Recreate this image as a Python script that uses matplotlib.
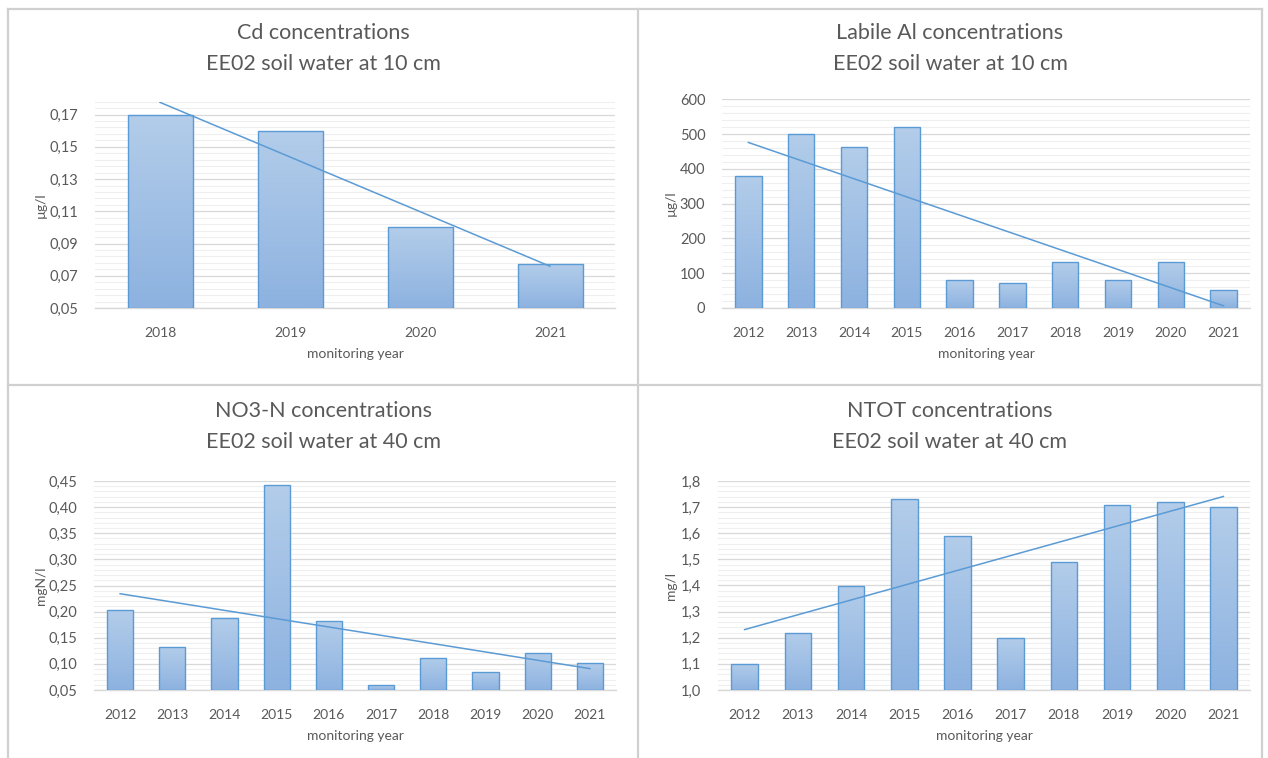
import matplotlib
matplotlib.use('Agg')
import matplotlib.pyplot as plt
import numpy as np
from matplotlib.patches import Rectangle
from matplotlib.lines import Line2D
from matplotlib.colors import LinearSegmentedColormap
from matplotlib.ticker import FixedLocator

plt.rcParams['font.family'] = ['Lato', 'DejaVu Sans']

# ---------------- data ----------------
cd_years = ['2018', '2019', '2020', '2021']
cd_values = [0.170, 0.160, 0.100, 0.077]

years = ['2012', '2013', '2014', '2015', '2016', '2017', '2018', '2019', '2020', '2021']
al_values = [380, 500, 462, 520, 80, 73, 132, 80, 132, 52]
no3_values = [0.203, 0.133, 0.187, 0.443, 0.182, 0.059, 0.112, 0.085, 0.121, 0.101]
ntot_values = [1.10, 1.22, 1.40, 1.73, 1.59, 1.20, 1.49, 1.71, 1.72, 1.70]

titles = ['Cd concentrations\nEE02 soil water at 10 cm',
          'Labile Al concentrations\nEE02 soil water at 10 cm',
          'NO3-N concentrations\nEE02 soil water at 40 cm',
          'NTOT concentrations\nEE02 soil water at 40 cm']
ylabels = ['µg/l', 'µg/l', 'mgN/l', 'mg/l']
xlabel = 'monitoring year'

# ---------------- style ----------------
W, H = 1268, 758
fig = plt.figure(figsize=(W / 100, H / 100), dpi=100)

TEXT = '#595959'
EDGE = '#5b9bd5'
MAJ = '#d9d9d9'
MIN = '#efefef'
cmap = LinearSegmentedColormap.from_list('bar', ['#b3cdea', '#8db2e0'])


def fig_rect(l, t, r, b):
    return [l / W, 1 - b / H, (r - l) / W, (b - t) / H]


def fmt(v, dec):
    return f'{v:.{dec}f}'.replace('.', ',')


panels = [
    dict(cats=cd_years, vals=cd_values, ymin=0.05, ymax=0.178, major=0.02, minor=0.004,
         dec=2, px=(95, 101.7, 615, 308), pan=(8, 638), ttop=0),
    dict(cats=years, vals=al_values, ymin=0, ymax=600, major=100, minor=20,
         dec=0, px=(722, 99.3, 1250, 308), pan=(638, 1262), ttop=0),
    dict(cats=years, vals=no3_values, ymin=0.05, ymax=0.45, major=0.05, minor=0.01,
         dec=2, px=(94, 481, 616, 690), pan=(8, 638), ttop=1),
    dict(cats=years, vals=ntot_values, ymin=1.0, ymax=1.8, major=0.1, minor=0.02,
         dec=1, px=(718, 481, 1250, 690), pan=(638, 1262), ttop=1),
]

grad = np.linspace(0, 1, 128).reshape(-1, 1)

for i, p in enumerate(panels):
    ax = fig.add_axes(fig_rect(*p['px']))
    n = len(p['cats'])
    x = np.arange(n)
    vals = np.array(p['vals'], dtype=float)
    ymin, ymax = p['ymin'], p['ymax']

    # gridlines
    minors = np.arange(ymin, ymax + 1e-9, p['minor'])
    majors = np.arange(ymin, ymax + 1e-9, p['major'])
    for m in minors:
        ax.axhline(m, color=MIN, lw=0.8, zorder=0)
    for m in majors:
        ax.axhline(m, color=MAJ, lw=0.9, zorder=0.5)

    # bars with gradient fill
    bw = 0.5
    for xi, v in zip(x, vals):
        rect = Rectangle((xi - bw / 2, ymin), bw, v - ymin, facecolor='none',
                         edgecolor=EDGE, lw=1.0, zorder=3)
        ax.add_patch(rect)
        im = ax.imshow(grad, cmap=cmap, aspect='auto', origin='upper',
                       extent=(xi - bw / 2, xi + bw / 2, ymin, v), zorder=2,
                       interpolation='bilinear')
        im.set_clip_path(rect)

    # linear trendline
    coef = np.polyfit(x, vals, 1)
    ax.plot(x, np.polyval(coef, x), color=EDGE, lw=1.1, zorder=4)

    ax.set_xlim(-0.5, n - 0.5)
    ax.set_ylim(ymin, ymax)
    ax.set_xticks(x)
    ax.set_xticklabels(p['cats'], fontsize=10, color=TEXT)
    ax.yaxis.set_major_locator(FixedLocator(majors))
    ax.set_yticklabels([fmt(m, p['dec']) for m in majors], fontsize=10.5, color=TEXT)
    ax.tick_params(axis='both', length=0)
    ax.tick_params(axis='x', pad=14)
    ax.tick_params(axis='y', pad=12)
    for s in ['top', 'right', 'left']:
        ax.spines[s].set_visible(False)
    ax.spines['bottom'].set_color(MAJ)
    ax.spines['bottom'].set_linewidth(1.0)
    ax.spines['bottom'].set_zorder(1)
    ax.patch.set_alpha(0)

    l, t, r, b = p['px']
    # x axis title
    fig.text(((l + r) / 2) / W, 1 - (b + 46) / H, xlabel, ha='center', va='center',
             fontsize=10, color=TEXT)
    # y axis title
    fig.text((p['pan'][0] + 33) / W, 1 - ((t + b) / 2) / H, ylabels[i], ha='center',
             va='center', rotation=90, fontsize=10, color=TEXT)
    # chart title
    pc = (p['pan'][0] + p['pan'][1]) / 2
    y0 = 0 if p['ttop'] == 0 else 378
    fig.text(pc / W, 1 - (y0 + 33) / H, titles[i].split('\n')[0], ha='center',
             va='center', fontsize=15.5, color=TEXT)
    fig.text(pc / W, 1 - (y0 + 64) / H, titles[i].split('\n')[1], ha='center',
             va='center', fontsize=15.5, color=TEXT)

# panel borders
BC = '#d0d0d0'


def hline(y, x0, x1):
    fig.add_artist(Line2D([x0 / W, x1 / W], [1 - y / H, 1 - y / H], color=BC, lw=1.6))


def vline(x, y0, y1):
    fig.add_artist(Line2D([x / W, x / W], [1 - y0 / H, 1 - y1 / H], color=BC, lw=1.6))


hline(9, 8, 1262)
hline(385, 8, 1262)
vline(8, 9, 758)
vline(638, 9, 758)
vline(1262, 9, 758)

fig.savefig('out.png', dpi=100, facecolor='white')
